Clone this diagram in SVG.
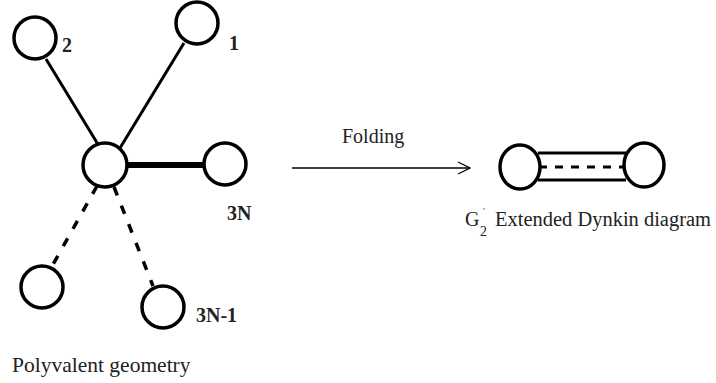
<svg xmlns="http://www.w3.org/2000/svg" width="716" height="383" viewBox="0 0 716 383">
<defs>
<style>
.node{fill:#fff;stroke:#000;stroke-width:3.5}
.edge{stroke:#000;stroke-width:3;fill:none}
.thick{stroke:#000;stroke-width:6;fill:none}
.dash{stroke:#000;stroke-width:3.5;stroke-dasharray:9 11;fill:none}
.mid{stroke:#000;stroke-width:3;stroke-dasharray:8 8;fill:none}
.lbl{font-family:"Liberation Serif","Times New Roman",serif;font-weight:bold;font-size:20px;fill:#222}
.txt{font-family:"Liberation Serif","Times New Roman",serif;font-size:21.5px;fill:#222}
</style>
<marker id="open" viewBox="0 0 14 14" refX="13" refY="7" markerWidth="14" markerHeight="14" markerUnits="userSpaceOnUse" orient="auto">
<path d="M1,1 L13,7 L1,13" fill="none" stroke="#000" stroke-width="1.3"/>
</marker>
</defs>
<rect width="716" height="383" fill="#fff"/>
<g id="connectors">
<line class="edge" x1="46" y1="59" x2="99" y2="146"/>
<line class="edge" x1="184" y1="43" x2="120" y2="148"/>
<line class="thick" x1="126" y1="165" x2="204" y2="165"/>
<line class="dash" x1="97" y1="186" x2="51" y2="268"/>
<line class="dash" x1="114" y1="187" x2="153" y2="286"/>
<line x1="292" y1="168" x2="470" y2="168" stroke="#000" stroke-width="1.3" marker-end="url(#open)"/>
<line class="edge" x1="538" y1="153" x2="626" y2="153"/>
<line class="edge" x1="538" y1="180" x2="626" y2="180"/>
<line class="mid" x1="539" y1="167" x2="625" y2="167"/>
</g>
<g id="node-2"><circle class="node" cx="35" cy="38" r="21"/><text class="lbl" x="62" y="52">2</text></g>
<g id="node-1"><circle class="node" cx="197" cy="23" r="21"/><text class="lbl" x="229" y="50">1</text></g>
<g id="node-center"><circle class="node" cx="105" cy="165" r="22"/></g>
<g id="node-3N"><circle class="node" cx="225" cy="164" r="21"/><text class="lbl" x="227" y="220">3N</text></g>
<g id="node-left"><circle class="node" cx="42" cy="287" r="21"/></g>
<g id="node-3N-1"><circle class="node" cx="163" cy="307" r="21"/><text class="lbl" x="196" y="322">3N-1</text></g>
<g id="caption-left"><text class="txt" x="12" y="372">Polyvalent geometry</text></g>
<g id="caption-folding"><text class="txt" x="342" y="143" style="font-size:20px">Folding</text></g>
<g id="g2-left"><ellipse class="node" cx="520" cy="167" rx="20" ry="22"/></g>
<g id="g2-right"><ellipse class="node" cx="644" cy="165" rx="20" ry="22"/></g>
<g id="caption-g2">
<text class="txt" x="465" y="226" style="font-size:20px">G</text>
<text class="txt" x="480" y="236" style="font-size:14px">2</text>
<text class="txt" x="483" y="214" style="font-size:9px">'</text>
<text class="txt" x="495" y="226" style="font-size:20px" textLength="216" lengthAdjust="spacingAndGlyphs">Extended Dynkin diagram</text>
</g>
</svg>
